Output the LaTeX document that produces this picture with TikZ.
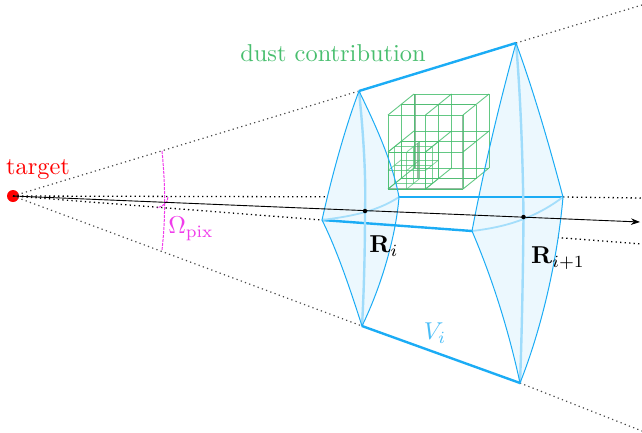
\documentclass[tikz,border=0pt]{standalone}
\usetikzlibrary{arrows.meta}
\definecolor{vblue}{RGB}{27,172,245}
\definecolor{vfill}{RGB}{236,248,254}
\definecolor{dgreen}{RGB}{72,190,110}
\definecolor{omag}{RGB}{240,60,235}
\definecolor{greyg}{RGB}{150,185,160}
\newcommand{\cubegrid}[5]{% x0 y0 z0 size, in units of the big cube, subdivided into 2; line style
  \foreach \ii in {0,1,2}{\foreach \jj in {0,1,2}{
    \pgfmathsetmacro{\xa}{#1+\ii*#4/2}\pgfmathsetmacro{\ya}{#2+\jj*#4/2}
    \draw[#5] ({388+75*\xa+26*#3},{-189+74*\ya+21*#3}) -- ({388+75*\xa+26*(#3+#4)},{-189+74*\ya+21*(#3+#4)});
    \pgfmathsetmacro{\xa}{#1+\ii*#4/2}\pgfmathsetmacro{\za}{#3+\jj*#4/2}
    \draw[#5] ({388+75*\xa+26*\za},{-189+74*#2+21*\za}) -- ({388+75*\xa+26*\za},{-189+74*(#2+#4)+21*\za});
    \pgfmathsetmacro{\ya}{#2+\ii*#4/2}\pgfmathsetmacro{\za}{#3+\jj*#4/2}
    \draw[#5] ({388+75*#1+26*\za},{-189+74*\ya+21*\za}) -- ({388+75*(#1+#4)+26*\za},{-189+74*\ya+21*\za});
  }}}
\tikzset{
  x=1pt,y=1pt,
  sight/.style={black!72,line width=1.2pt,dash pattern=on 1.2pt off 3.3pt},
  siglow/.style={black,line width=1.3pt,dash pattern=on 1.3pt off 3.2pt},
  edgeline/.style={vblue,line width=1pt},
  thickedge/.style={vblue,line width=2.4pt},
  spine/.style={vblue!42,line width=2.4pt},
  crossline/.style={vblue!40,line width=1.8pt},
  cubeline/.style={dgreen,line width=0.9pt,opacity=0.85},
  cubefine/.style={dgreen,line width=0.75pt,opacity=0.7},
  shade/.style={greyg,line width=1.7pt},
  dotpt/.style={circle,fill=black,inner sep=0pt,minimum size=4.5pt},
  lab/.style={inner sep=0pt,scale=2.44,transform shape},
  omarc/.style={omag,line width=1pt,dash pattern=on 3pt off 1pt}
}
\begin{document}
\begin{tikzpicture}
\useasboundingbox (0,-432) rectangle (642,0);
\coordinate (Atop) at (359,-91);
\coordinate (Aright) at (399,-197);
\coordinate (Abot) at (362,-326);
\coordinate (Aleft) at (322,-220);
\coordinate (Btop) at (516,-43);
\coordinate (Bright) at (563,-197);
\coordinate (Bbot) at (520,-383);
\coordinate (Bleft) at (472,-231);
\coordinate (UE) at (642,-5);
\coordinate (LE) at (642,-431);
\coordinate (IU) at (642,-198);
\coordinate (IL) at (642,-244);
\coordinate (AE) at (640,-222);
\coordinate (O1) at (162,-151);
\coordinate (O2) at (162,-250);
\coordinate (O3) at (168,-197);
\coordinate (O4) at (157,-208);
\node[circle,fill=red,inner sep=0pt,minimum size=12pt] (T) at (13,-196) {};
% dotted sight lines
\draw[sight] (T.center) -- (Atop); \draw[sight] (Btop) -- (UE);
\draw[sight] (T.center) -- (Abot); \draw[sight] (Bbot) -- (LE);
\draw[siglow] (T.center) -- (Aright); \draw[siglow] (Bright) -- (IU);
\draw[siglow] (T.center) -- (Aleft); \draw[siglow] (Bleft) -- (IL);
% fills
\fill[vfill] (Btop) .. controls (499,-105) and (484,-168) .. (Bleft) .. controls (493,-280) and (509,-332) .. (Bbot) .. controls (543,-325) and (558,-255) .. (Bright) .. controls (550,-148) and (534,-92) .. cycle;
\fill[vfill] (Atop) .. controls (346,-125) and (332,-175) .. (Aleft) .. controls (338,-252) and (351,-292) .. (Abot) .. controls (382,-285) and (396,-235) .. (Aright) .. controls (392,-160) and (374,-122) .. cycle;
% thick edges behind
\draw[thickedge] (Aright) -- (Bright);
\draw[thickedge] (Aleft) -- (Bleft);
% spines
\draw[spine] (Atop) .. controls (364,-140) and (366,-180) .. (365,-211) .. controls (365,-250) and (364,-290) .. (Abot);
\draw[spine] (Btop) .. controls (521,-100) and (523,-170) .. (523.5,-217) .. controls (523,-270) and (522,-330) .. (Bbot);
\draw[crossline] (Aleft) .. controls (345,-217) and (375,-213) .. (Aright);
\draw[crossline] (Bleft) .. controls (497,-228) and (530,-222) .. (Bright);
% cubes
\draw[shade] (415,-94) -- (415,-168);
\draw[shade] (462.5,-115) -- (462.5,-189);
\draw[shade] (401,-104.5) -- (476,-104.5);
\draw[shade] (401,-178.5) -- (476,-178.5);
\draw[shade] (388,-189) -- (463,-189);
\draw[shade] (418,-143) -- (418,-178);
\cubegrid{0}{0}{0}{1}{cubeline}
\cubegrid{0}{0}{0}{.5}{cubefine}
% edges
\draw[edgeline] (Atop) .. controls (346,-125) and (332,-175) .. (Aleft) .. controls (338,-252) and (351,-292) .. (Abot) .. controls (382,-285) and (396,-235) .. (Aright) .. controls (392,-160) and (374,-122) .. (Atop);
\draw[edgeline] (Btop) .. controls (499,-105) and (484,-168) .. (Bleft) .. controls (493,-280) and (509,-332) .. (Bbot) .. controls (543,-325) and (558,-255) .. (Bright) .. controls (550,-148) and (534,-92) .. (Btop);
\draw[thickedge] (Atop) -- (Btop);
\draw[thickedge] (Abot) -- (Bbot);
% omega arcs
\draw[omarc] (O1) .. controls (165,-180) and (166,-215) .. (O2);
\draw[omarc] (O3) .. controls (168,-203) and (163,-206) .. (O4);
% arrow
\node[dotpt] (Ac) at (365,-211) {};
\node[dotpt] (Bc) at (523.5,-217) {};
\draw[black,line width=0.9pt,-{Stealth[length=9pt,width=6.5pt]}] (T.center) -- (AE);
% labels
\node[lab,red] (tl) at (38,-170) {target};
\node[lab,dgreen] (dl) at (333,-53) {dust contribution};
\node[lab,omag] (ol) at (191,-229) {$\Omega_{\mathrm{pix}}$};
\node[lab] (ri) at (384,-246) {$\mathbf{R}_i$};
\node[lab] (rj) at (558,-258) {$\mathbf{R}_{i+1}$};
\node[lab,vblue!80] (vl) at (435,-333) {$V_i$};
\end{tikzpicture}
\end{document}
